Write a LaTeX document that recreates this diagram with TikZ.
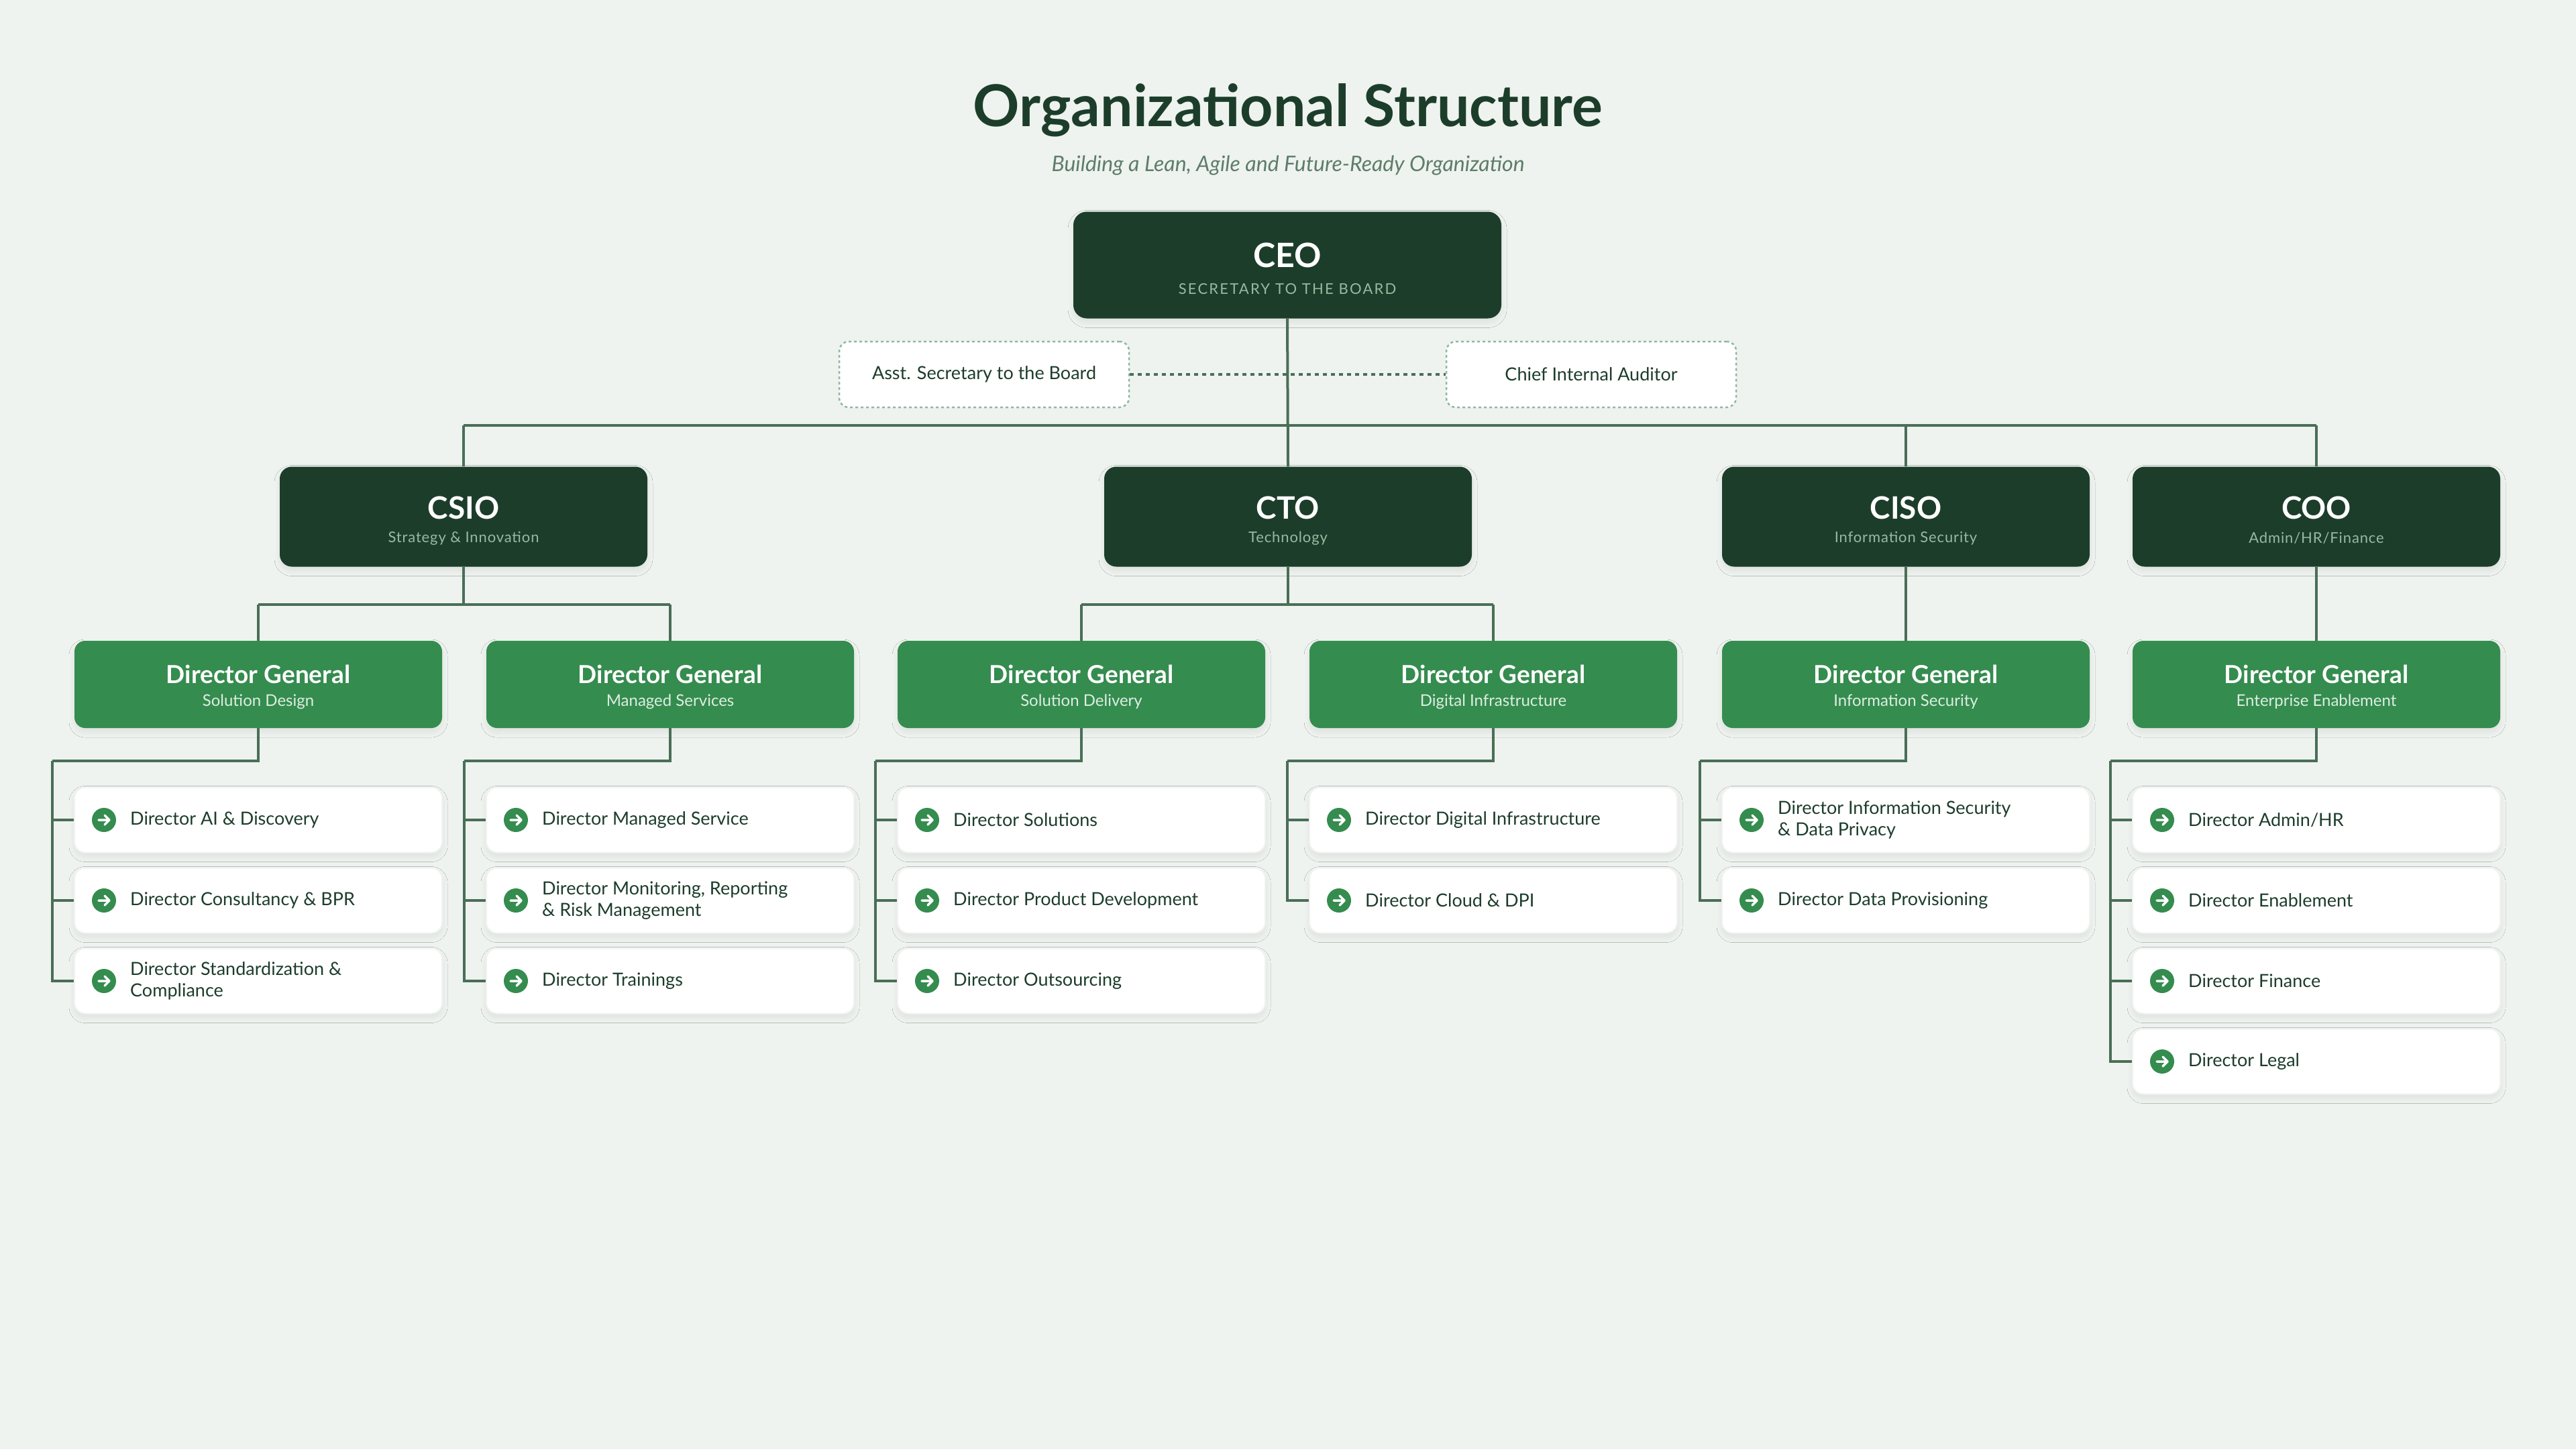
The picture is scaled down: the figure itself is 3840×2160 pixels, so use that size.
\documentclass[tikz,border=0pt]{standalone}
\usepackage{fontspec}
\setmainfont{Lato}
\usetikzlibrary{shadows.blur,arrows.meta}
\definecolor{bg}{HTML}{EEF3EF}
\definecolor{dark}{HTML}{1D3D2B}
\definecolor{mid}{HTML}{358C4F}
\definecolor{ln}{HTML}{4A6E57}
\definecolor{sub}{HTML}{5E7D69}
\definecolor{lsub}{HTML}{95BBA0}
\definecolor{dgsub}{HTML}{DDEEE2}
\definecolor{dash}{HTML}{8FB8A0}
\tikzset{
 line/.style={draw=ln,line width=4pt},
 shad/.style={blur shadow={shadow xshift=0pt,shadow yshift=-6pt,shadow blur steps=10,shadow opacity=7,shadow blur radius=8pt}},
 lvl/.style={fill=dark,rounded corners=18pt,minimum width=548pt,minimum height=149pt,inner sep=0pt,shad},
 dg/.style={fill=mid,rounded corners=16pt,minimum width=548pt,minimum height=130pt,inner sep=0pt,shad},
 leaf/.style={fill=white,draw=black!5,line width=2pt,rounded corners=16pt,minimum width=548pt,minimum height=97pt,inner sep=0pt,shad},
 side/.style={fill=white,draw=dash,dashed,dash pattern=on 4pt off 4pt,line width=2.5pt,rounded corners=14pt,minimum width=432pt,minimum height=98pt,inner sep=0pt},
 lt/.style={anchor=west,align=left,text=dark,font=\fontsize{27}{32}\selectfont,inner sep=0pt},
}
\newcommand{\icon}[2]{%
 \fill[mid] (#1,#2) circle (18pt);
 \draw[white,line width=3.5pt,line cap=round,line join=round] (#1-8,#2) -- (#1+8,#2) (#1+1,#2-7) -- (#1+8,#2) -- (#1+1,#2+7);}
\newcommand{\leafnode}[4]{%
 \node[leaf] (#1) at (#2+274,#3) {};
 \icon{#2+44}{#3}
 \node[lt] at (#2+83,#3) {#4};}
\begin{document}
\begin{tikzpicture}[x=1pt,y=-1pt]
\fill[bg] (0,0) rectangle (3840,2160);
\useasboundingbox (0,0) rectangle (3840,2160);
\node[text=dark,font=\fontsize{86}{100}\selectfont\bfseries] (title) at (1920,164) {Organizational Structure};
\node[text=sub,font=\fontsize{32}{38}\selectfont\itshape] (subt) at (1920,247) {Building a Lean, Agile and Future-Ready Organization};
\node[fill=dark,rounded corners=20pt,minimum width=638pt,minimum height=159pt,shad] (ceo) at (1919,395) {};
\node[text=white,font=\fontsize{50}{56}\selectfont\bfseries] (ceot) at (1919,380) {CEO};
\node[text=lsub,font=\fontsize{22}{26}\selectfont\addfontfeatures{LetterSpace=10}] (ceos) at (1919,431) {SECRETARY TO THE BOARD};
\node[side] (asst) at (1467,558) {};
\node[text=dark,font=\fontsize{27}{32}\selectfont] at (1467,558) {Asst. Secretary to the Board};
\node[side] (aud) at (2372,558) {};
\node[text=dark,font=\fontsize{27}{32}\selectfont] at (2372,558) {Chief Internal Auditor};
\draw[draw=ln,line width=4pt,dash pattern=on 6pt off 6pt] (asst.east) -- (aud.west);
\foreach \n/\x/\t/\s in {csio/691/CSIO/{Strategy \& Innovation}, cto/1920/CTO/{Technology}, ciso/2841/CISO/{Information Security}, coo/3453/COO/{Admin/HR/Finance}}{
 \node[lvl] (\n) at (\x,770) {};
 \node[text=white,font=\fontsize{46}{52}\selectfont\bfseries] at (\x,757) {\t};
 \node[text=lsub,font=\fontsize{22}{26}\selectfont\addfontfeatures{LetterSpace=4}] at (\x,802) {\s};
}
\coordinate (busl) at (691,634);
\coordinate (busr) at (3453,634);
\draw[line] (ceo.south) -- (cto.north);
\draw[line] (busl) -- (busr);
\draw[line] (busl) -- (csio.north);
\draw[line] (ciso.north |- busl) -- (ciso.north);
\draw[line] (busr) -- (coo.north);
\foreach \i/\x/\s in {1/385/Solution Design,2/999/Managed Services,3/1612/Solution Delivery,4/2226/Digital Infrastructure,5/2841/Information Security,6/3453/Enterprise Enablement}{
 \node[dg] (dg\i) at (\x,1020) {};
 \node[text=white,font=\fontsize{37}{42}\selectfont\bfseries] at (\x,1005) {Director General};
 \node[text=dgsub,font=\fontsize{24}{28}\selectfont] at (\x,1046) {\s};
 \coordinate (b\i) at (\x-307,1134);
}
\coordinate (m1) at (385,901); \coordinate (m2) at (999,901);
\coordinate (m3) at (1612,901); \coordinate (m4) at (2226,901);
\draw[line] (csio.south) -- (691,901);
\draw[line] (m1) -- (m2); \draw[line] (m1) -- (dg1.north); \draw[line] (m2) -- (dg2.north);
\draw[line] (cto.south) -- (1920,901);
\draw[line] (m3) -- (m4); \draw[line] (m3) -- (dg3.north); \draw[line] (m4) -- (dg4.north);
\draw[line] (ciso.south) -- (dg5.north);
\draw[line] (coo.south) -- (dg6.north);
\foreach \i in {1,...,6}{\draw[line] (dg\i.south) |- (b\i);}
\leafnode{l11}{111}{1222}{Director AI \& Discovery}
\leafnode{l12}{111}{1342}{Director Consultancy \& BPR}
\leafnode{l13}{111}{1462}{Director Standardization \&\\Compliance}
\leafnode{l21}{725}{1222}{Director Managed Service}
\leafnode{l22}{725}{1342}{Director Monitoring, Reporting\\\& Risk Management}
\leafnode{l23}{725}{1462}{Director Trainings}
\leafnode{l31}{1338}{1222}{Director Solutions}
\leafnode{l32}{1338}{1342}{Director Product Development}
\leafnode{l33}{1338}{1462}{Director Outsourcing}
\leafnode{l41}{1952}{1222}{Director Digital Infrastructure}
\leafnode{l42}{1952}{1342}{Director Cloud \& DPI}
\leafnode{l51}{2567}{1222}{Director Information Security\\\& Data Privacy}
\leafnode{l52}{2567}{1342}{Director Data Provisioning}
\leafnode{l61}{3179}{1222}{Director Admin/HR}
\leafnode{l62}{3179}{1342}{Director Enablement}
\leafnode{l63}{3179}{1462}{Director Finance}
\leafnode{l64}{3179}{1582}{Director Legal}
\foreach \i/\k in {1/3,2/3,3/3,4/2,5/2,6/4}{
 \foreach \j in {1,...,\k}{\draw[line,line join=miter] (b\i) |- (l\i\j.west);}
}
\end{tikzpicture}
\end{document}
